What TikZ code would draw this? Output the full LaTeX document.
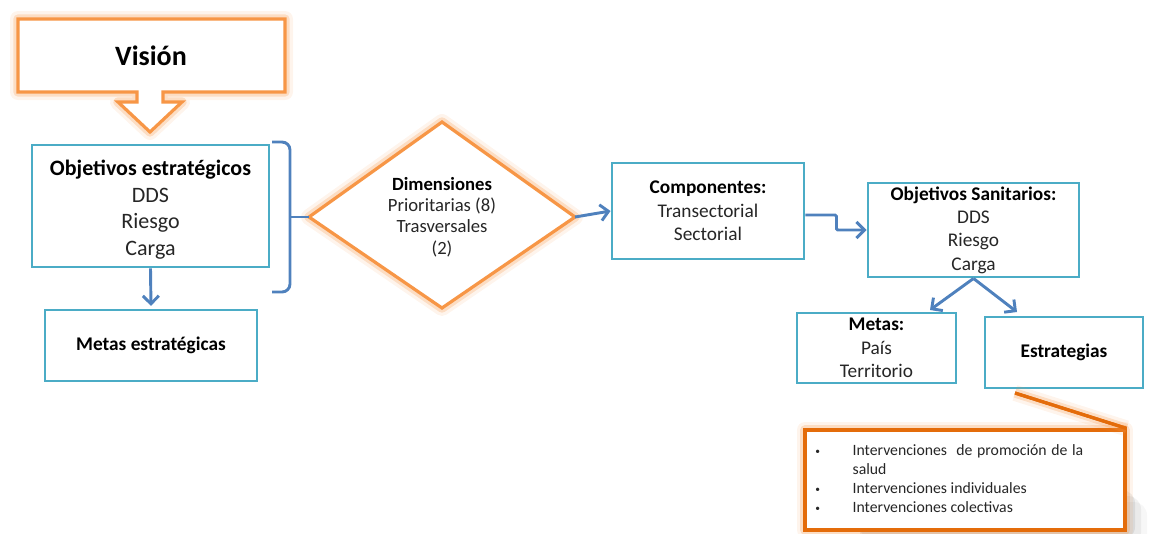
\documentclass[tikz,border=0pt]{standalone}
\usepackage{fontspec}
\setmainfont{Carlito}
\usetikzlibrary{arrows.meta}

\definecolor{boxline}{RGB}{75,172,198}
\definecolor{arrowblue}{RGB}{79,129,189}
\definecolor{softorange}{RGB}{247,150,70}
\definecolor{deeporange}{RGB}{228,108,10}
\definecolor{bodytext}{RGB}{38,38,38}

\tikzset{
  x=0.75pt, y=-0.75pt,
  halo/.style={
    preaction={draw=softorange, line width=12pt, opacity=0.10, line join=round},
    preaction={draw=softorange, line width=7pt, opacity=0.25, line join=round}},
  box/.style 2 args={draw=boxline, line width=2.2pt, fill=white, inner sep=0pt,
    align=center, text=bodytext, minimum width=#1*0.75pt, minimum height=#2*0.75pt},
  midtext/.style={font=\fontsize{14.5}{17.5}\selectfont},
  arr/.style={draw=arrowblue, line width=2.2pt,
    -{Straight Barb[length=6pt,width=12pt]}},
  bracketline/.style={draw=arrowblue, line width=2.2pt},
}
\newcommand{\smallbullet}{\raisebox{0.15ex}{\scalebox{0.6}{\textbullet}}}

\begin{document}
\begin{tikzpicture}
\useasboundingbox (0,0) rectangle (1157,533);

% Vision callout with its downward arrow
\draw[halo, draw=softorange, line width=2.4pt, fill=white, line join=miter]
  (18,19) -- (285,19) -- (285,92) -- (163,92) -- (163,102) -- (182,102)
  -- (150,132) -- (118,102) -- (137,102) -- (137,92) -- (18,92) -- cycle;
\node[font=\bfseries\fontsize{21}{25}\selectfont, text=black] (vision) at (151,56) {Visión};

% Left column
\node[box={237}{122}, font=\fontsize{16.5}{20}\selectfont] (objest) at (150.5,206)
  {\rule{0pt}{17pt}\textbf{\color{black}Objetivos estratégicos}\\DDS\\Riesgo\\Carga};
\node[box={212}{71}, midtext] (metaest) at (151,345.5)
  {\textbf{\color{black}Metas estratégicas}};
\draw[arr, shorten >=2pt] (objest.south) -- (metaest.north);

% Bracket grouping the strategic objectives
\draw[bracketline, rounded corners=6pt] (272,142) -- (290,142) -- (290,292) -- (272,292);

% Dimensions diamond
\coordinate (dl) at (309,217);
\coordinate (dt) at (442,122);
\coordinate (dr) at (575,217);
\coordinate (db) at (442,308);
\draw[halo, draw=softorange, line width=2.4pt, fill=white] (dl) -- (dt) -- (dr) -- (db) -- cycle;
\node[align=center, text=bodytext, font=\fontsize{14}{16}\selectfont] (dim) at (442,217)
  {\textbf{\color{black}Dimensiones}\\Prioritarias (8)\\Trasversales\\(2)};
\draw[bracketline] (290,217) -- (dl);

% Components and health objectives
\node[box={192}{96}, midtext] (comp) at (708,211)
  {\textbf{\color{black}Componentes:}\\Transectorial\\Sectorial};
\draw[arr] (dr) -- (comp.west);

\node[box={211}{94}, midtext] (objsan) at (973.5,230)
  {\textbf{\color{black}Objetivos Sanitarios:}\\DDS\\Riesgo\\Carga};
\draw[arr, rounded corners=1pt] ([yshift=-3pt]comp.east) -- ++(31,0) |- (objsan.west);

\node[box={159}{70}, midtext] (metas) at (876.5,348)
  {\textbf{\color{black}Metas:}\\País\\Territorio};
\node[box={158}{71}, midtext] (estr) at (1064,352.5)
  {\textbf{\color{black}Estrategias}};
\coordinate (metatip) at (930,310);
\coordinate (estrtip) at (1017,312);
\draw[arr] (objsan.south) -- (metatip);
\draw[arr] (objsan.south) -- (estrtip);

% Soft shadow behind the strategies callout
\foreach \d/\o in {22/0.03,16/0.05,10/0.07}
  \fill[black, opacity=\o, rounded corners=10pt] (860,480+\d) rectangle (1125+\d,530+\d);

% Strategies callout
\coordinate (pointerfoot) at (1015,393);
\node[halo, draw=deeporange, line width=2.4pt, fill=white, inner sep=0pt,
  minimum width=240pt, minimum height=75pt] (interv) at (965,480) {};
\draw[halo, draw=deeporange, line width=2.4pt] (pointerfoot) -- (interv.north east);
\draw[draw=deeporange, line width=2.4pt] (pointerfoot) -- (interv.north east);
\node[anchor=north west, inner sep=0pt, text=bodytext,
  font=\fontsize{11.8}{14.3}\selectfont] (intervtext) at (815,442)
  {\begin{tabular}{@{}p{28pt}@{}l@{}}
   \smallbullet & \makebox[173pt][s]{Intervenciones\ \ de promoción de la}\\
                & salud\\
   \smallbullet & Intervenciones individuales\\
   \smallbullet & Intervenciones colectivas
   \end{tabular}};
\end{tikzpicture}
\end{document}
